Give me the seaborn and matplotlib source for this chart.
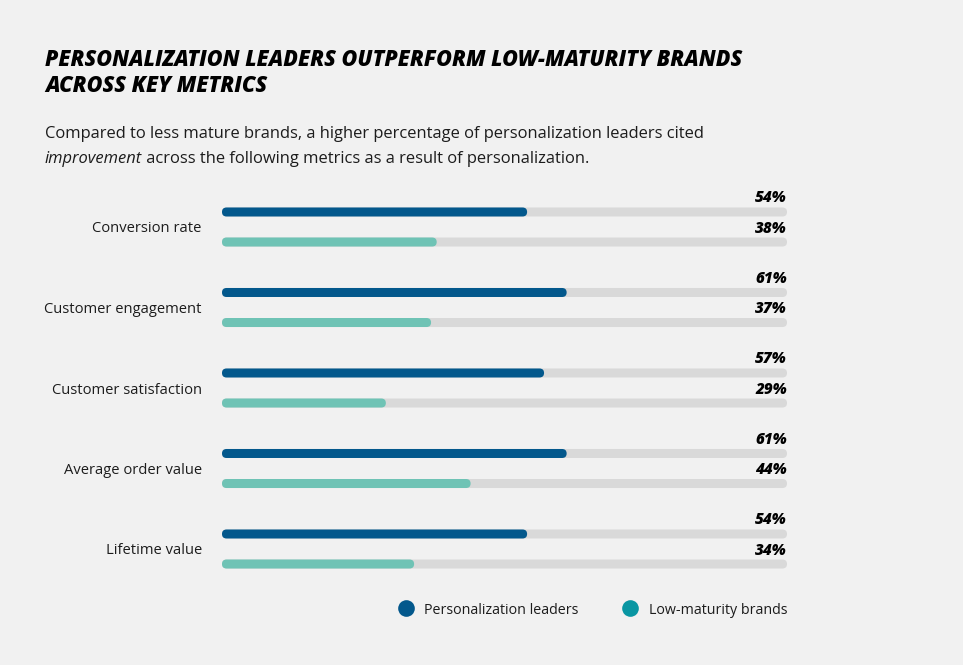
import numpy as np
import pandas as pd
import matplotlib.pyplot as plt
from matplotlib.patches import FancyBboxPatch
from matplotlib.lines import Line2D
import seaborn as sns

categories = ["Conversion rate", "Customer engagement", "Customer satisfaction",
              "Average order value", "Lifetime value"]
leaders = [54, 61, 57, 61, 54]
low_maturity = [38, 37, 29, 44, 34]
series_names = ["Personalization leaders", "Low-maturity brands"]

title = "PERSONALIZATION LEADERS OUTPERFORM LOW-MATURITY BRANDS\nACROSS KEY METRICS"
subtitle_1 = "Compared to less mature brands, a higher percentage of personalization leaders cited"
subtitle_2_it = "improvement"
subtitle_2 = " across the following metrics as a result of personalization."

BG = "#f1f1f1"
DARK = "#03588c"
LIGHT = "#6fc3b5"
LEGEND_TEAL = "#0996a2"
TRACK = "#d9d9d9"
TEXT = "#1c1c1c"

df = pd.DataFrame({
    "metric": categories * 2,
    "series": [series_names[0]] * len(categories) + [series_names[1]] * len(categories),
    "value": leaders + low_maturity,
})
df["track"] = 100

sns.set_theme(style="white")
plt.rcParams["font.family"] = ["Open Sans", "DejaVu Sans"]

W, H = 963, 665
fig = plt.figure(figsize=(W / 100, H / 100), dpi=100, facecolor=BG)

# bar area in pixel terms
left_px, right_px = 222, 787
top_px, bottom_px = 227 - 40.25, 549 + 40.25
ax = fig.add_axes([left_px / W, 1 - bottom_px / H,
                   (right_px - left_px) / W, (bottom_px - top_px) / H])
ax.set_facecolor(BG)

sns.barplot(data=df, y="metric", x="track", hue="series", orient="h",
            palette=[TRACK, TRACK], width=0.746, gap=0.7, legend=False,
            ax=ax, saturation=1)
n_track = len(ax.patches)
sns.barplot(data=df, y="metric", x="value", hue="series", orient="h",
            palette=[DARK, LIGHT], width=0.746, gap=0.7, legend=False,
            ax=ax, saturation=1)

ax.set_xlim(0, 100)
ax.set_ylim(4.5, -0.5)

# round the bar ends
x_px_per_unit = (right_px - left_px) / 100
y_px_per_unit = (bottom_px - top_px) / 5
old = list(ax.patches)
values_patches = old[n_track:]
for p in old:
    x, y, w, h = p.get_x(), p.get_y(), p.get_width(), p.get_height()
    r_x = 4.6 / x_px_per_unit
    aspect = (abs(h) / 2) / r_x
    fb = FancyBboxPatch((x, y), w, h,
                        boxstyle=f"round,pad=0,rounding_size={r_x}",
                        mutation_aspect=aspect,
                        facecolor=p.get_facecolor(), edgecolor="none",
                        zorder=p.get_zorder())
    p.remove()
    ax.add_patch(fb)

# value labels at the end of each track
vals = leaders + low_maturity
for p, v in zip(values_patches, vals):
    yc = p.get_y() + p.get_height() / 2
    ax.text(100, yc - 13.5 / y_px_per_unit, f"{v}%", ha="right", va="center",
            fontsize=11, fontweight="heavy", fontstyle="italic", color="black")

ax.set_xlabel("")
ax.set_ylabel("")
ax.set_xticks([])
ax.tick_params(axis="y", length=0, pad=14.5, labelsize=10.6, labelcolor=TEXT)
sns.despine(ax=ax, left=True, bottom=True)

# title and subtitle
fig.text(45 / W, 1 - 73 / H, title, ha="left", va="center", fontsize=15.5,
         fontweight="heavy", fontstyle="italic", color="black", linespacing=1.13)
fig.text(45 / W, 1 - 134 / H, subtitle_1, ha="left", va="center",
         fontsize=11.85, color=TEXT)
t = fig.text(45 / W, 1 - 159 / H, subtitle_2_it, ha="left", va="center",
             fontsize=11.85, fontstyle="italic", color=TEXT)
fig.canvas.draw()
bb = t.get_window_extent()
fig.text(bb.x1 / W, 1 - 159 / H, subtitle_2, ha="left", va="center",
         fontsize=11.85, color=TEXT)

handles = [Line2D([], [], marker="o", linestyle="none", markersize=12,
                  markerfacecolor=c, markeredgecolor="none")
           for c in [DARK, LEGEND_TEAL]]
fig.legend(handles, series_names, loc="center right",
           bbox_to_anchor=(800 / W, 1 - 610 / H), ncol=2, frameon=False,
           fontsize=10.3, handletextpad=0.3, columnspacing=2.6,
           labelcolor=TEXT)

fig.savefig("out.png", dpi=100, facecolor=BG)
